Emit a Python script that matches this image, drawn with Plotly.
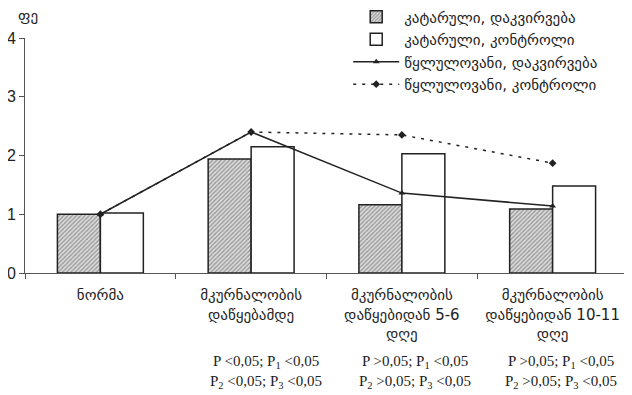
import plotly.graph_objects as go

categories = ["ნორმა", "მკურნალობის<br>დაწყებამდე", "მკურნალობის<br>დაწყებიდან 5-6<br>დღე", "მკურნალობის<br>დაწყებიდან 10-11<br>დღე"]
catarrhal_obs = [1.00, 1.94, 1.16, 1.09]
catarrhal_ctrl = [1.02, 2.15, 2.03, 1.48]
ulcer_obs = [1.00, 2.40, 1.36, 1.14]
ulcer_ctrl = [1.00, 2.40, 2.35, 1.87]
series_names = ["კატარული, დაკვირვება", "კატარული, კონტროლი", "წყლულოვანი, დაკვირვება", "წყლულოვანი, კონტროლი"]
p_texts = [
    "",
    "P &lt;0,05; P<sub>1</sub> &lt;0,05<br>P<sub>2</sub> &lt;0,05; P<sub>3</sub> &lt;0,05",
    "P &gt;0,05; P<sub>1</sub> &lt;0,05<br>P<sub>2</sub> &gt;0,05; P<sub>3</sub> &lt;0,05",
    "P &gt;0,05; P<sub>1</sub> &lt;0,05<br>P<sub>2</sub> &gt;0,05; P<sub>3</sub> &lt;0,05",
]
p_shift = [0, 15, 13, 8]
y_title = "ფე"
y_ticks = [0, 1, 2, 3, 4]

geo_font = "DejaVu Sans, sans-serif"
ink = "#222222"

fig = go.Figure()
fig.add_trace(go.Bar(
    x=categories, y=catarrhal_obs, name=series_names[0],
    marker=dict(color="#dddddd", line=dict(color=ink, width=1.5),
                pattern=dict(shape="/", fgcolor="#555555", bgcolor="#dddddd", size=3, solidity=0.45)),
))
fig.add_trace(go.Bar(
    x=categories, y=catarrhal_ctrl, name=series_names[1],
    marker=dict(color="white", line=dict(color=ink, width=1.5)),
))
fig.add_trace(go.Scatter(
    x=categories, y=ulcer_obs, name=series_names[2], mode="lines+markers",
    line=dict(color=ink, width=1.5),
    marker=dict(symbol="triangle-up", size=6, color=ink),
))
fig.add_trace(go.Scatter(
    x=categories, y=ulcer_ctrl, name=series_names[3], mode="lines+markers",
    line=dict(color=ink, width=1.5, dash="3px,6px"),
    marker=dict(symbol="diamond", size=6, color=ink),
))

for i, t in enumerate(p_texts):
    if t:
        fig.add_annotation(
            x=i, y=-0.42, xref="x", yref="paper", text=t, showarrow=False,
            xshift=p_shift[i], yanchor="middle", align="center",
            font=dict(family="Liberation Serif, Times New Roman, serif", size=15, color=ink),
        )

fig.add_annotation(
    x=0.0, y=1.095, xref="paper", yref="paper", text=y_title, showarrow=False,
    xanchor="left", yanchor="middle", xshift=-9,
    font=dict(family=geo_font, size=15, color=ink),
)

# page body has an 8px margin, so the figure is offset by (8, 8) in the window
fig.update_layout(
    width=624, height=387,
    margin=dict(l=17, r=4, t=30, b=122, autoexpand=False),
    paper_bgcolor="white", plot_bgcolor="white",
    barmode="group", bargap=0.43, bargroupgap=0,
    showlegend=True,
    legend=dict(
        x=0.536, y=1.16, xanchor="left", yanchor="top",
        bgcolor="rgba(0,0,0,0)", itemwidth=46, tracegroupgap=0,
        font=dict(family=geo_font, size=15, color=ink),
        traceorder="normal",
    ),
    font=dict(family="Liberation Sans, Arial, sans-serif", color=ink),
    xaxis=dict(
        type="category", tickson="boundaries", ticks="outside", ticklen=5,
        tickcolor="#555555", showline=True, linecolor="#555555", linewidth=1,
        showgrid=False, tickfont=dict(family=geo_font, size=15, color=ink),
        tickangle=0, ticklabelstandoff=8,
    ),
    yaxis=dict(
        range=[0, 4], tickvals=y_ticks, ticks="outside", ticklen=5,
        tickcolor="#555555", showline=True, linecolor="#555555", linewidth=1,
        showgrid=False, zeroline=False,
        tickfont=dict(family="Liberation Sans, Arial, sans-serif", size=16, color=ink),
    ),
)

fig.write_html("out.html")
